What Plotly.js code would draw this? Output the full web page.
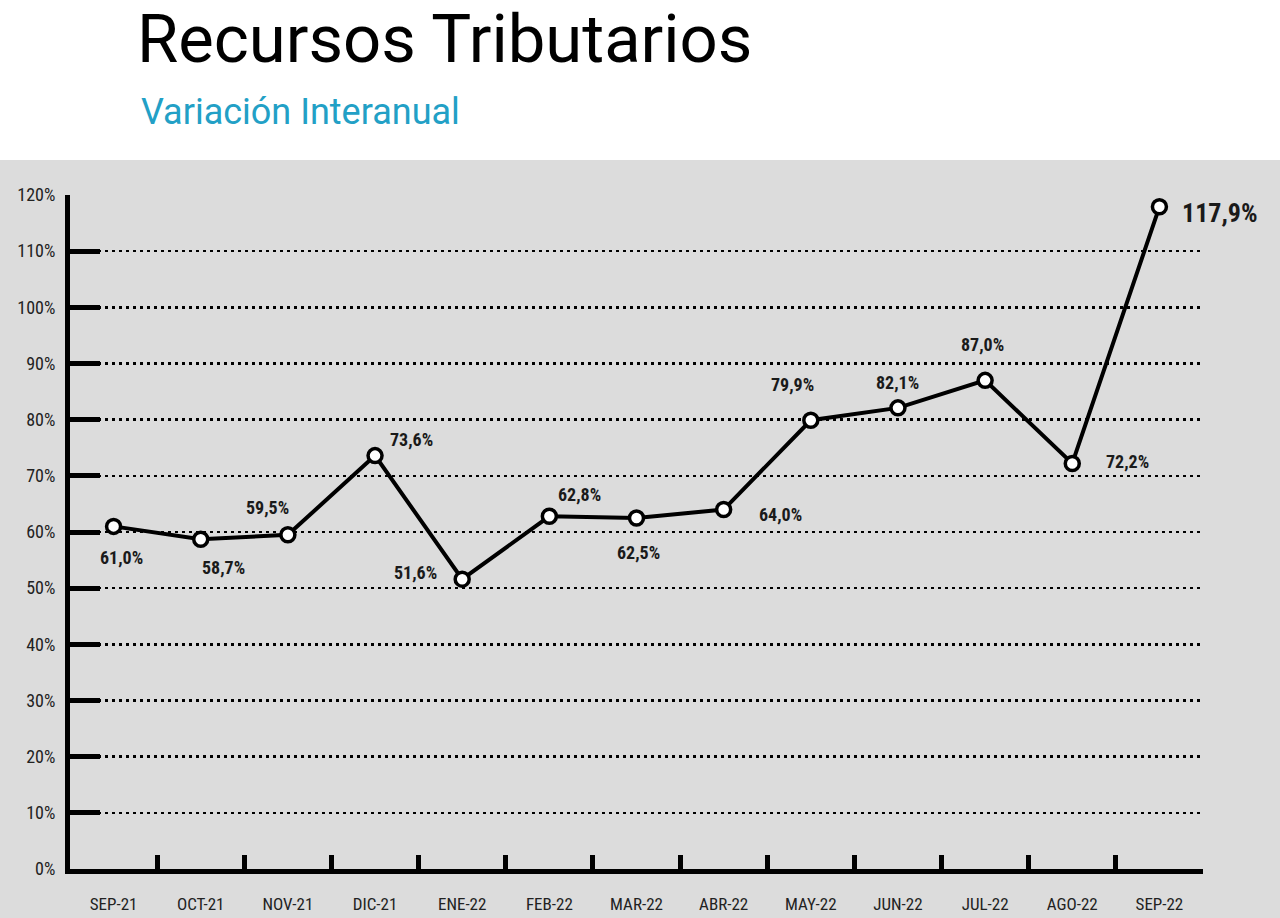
<!DOCTYPE html>
<html>
<head>
<meta charset="utf-8">
<script src="https://cdn.plot.ly/plotly-3.0.1.min.js"></script>
<style>
  html, body { margin: 0; padding: 0; background: #fff; }
  #chart { width: 1280px; height: 918px; }
</style>
</head>
<body>
<div id="chart"></div>
<script>
// meses y variación interanual (%)
const months = ["SEP-21", "OCT-21", "NOV-21", "DIC-21", "ENE-22", "FEB-22", "MAR-22",
                "ABR-22", "MAY-22", "JUN-22", "JUL-22", "AGO-22", "SEP-22"];
const variacion = [61.0, 58.7, 59.5, 73.6, 51.6, 62.8, 62.5, 64.0, 79.9, 82.1, 87.0, 72.2, 117.9];
const yTicks = [0, 10, 20, 30, 40, 50, 60, 70, 80, 90, 100, 110, 120];
const gridTicks = [10, 20, 30, 40, 50, 60, 70, 80, 90, 100, 110];

// where each label sits relative to its point (px)
const labelShiftX = [8, 23, -20, 36, -47, 30, 2, 57, -18, 0, -3, 55, 61];
const labelShiftY = [-31, -28, 27, 16, 7, 22, -35, -5, 36, 25, 36, 2, -6];

const labelFont = "'Liberation Sans Narrow', 'Roboto Condensed', 'Open Sans', sans-serif";

const fmt = v => v.toFixed(1).replace('.', ',') + '%';

const data = [{
    x: months.map((m, i) => i),
    y: variacion,
    type: 'scatter',
    mode: 'lines+markers',
    line: { color: '#000', width: 4 },
    marker: { size: 14, color: '#fff', line: { color: '#000', width: 3.5 } },
    cliponaxis: false,
    hoverinfo: 'skip'
}];

const annotations = variacion.map((v, i) => ({
    x: i,
    y: v,
    xref: 'x',
    yref: 'y',
    text: fmt(v),
    showarrow: false,
    xshift: labelShiftX[i],
    yshift: labelShiftY[i],
    font: {
        family: labelFont,
        size: i === variacion.length - 1 ? 26 : 18,
        color: '#1a1a1a',
        weight: 'bold'
    }
}));

annotations.push({
    xref: 'paper', yref: 'paper',
    x: 0.0605, y: 1.158,
    xanchor: 'left', yanchor: 'top',
    text: 'Variación Interanual',
    showarrow: false,
    font: { family: 'Roboto, sans-serif', size: 36, color: '#22a0c6' }
});

const layout = {
    width: 1280,
    height: 918,
    margin: { l: 70, r: 77, t: 195, b: 49 },
    paper_bgcolor: '#ffffff',
    plot_bgcolor: 'rgba(0,0,0,0)',
    showlegend: false,
    title: {
        text: 'Recursos Tributarios',
        xref: 'container', yref: 'container',
        x: 0.107, y: 0.984,
        xanchor: 'left', yanchor: 'top',
        font: { family: 'Roboto, sans-serif', size: 67, color: '#000' }
    },
    xaxis: {
        type: 'linear',
        range: [-0.5, 12.5],
        tickmode: 'array',
        tickvals: months.map((m, i) => i),
        ticktext: months,
        ticks: '',
        showgrid: false,
        zeroline: false,
        showline: true,
        linecolor: '#000',
        linewidth: 5,
        ticklabelstandoff: 16,
        tickfont: { family: labelFont, size: 17, color: '#222' }
    },
    xaxis2: {
        overlaying: 'x',
        range: [-0.5, 12.5],
        tickmode: 'array',
        tickvals: months.map((m, i) => i + 0.5),
        ticks: 'inside',
        ticklen: 14,
        tickwidth: 5,
        tickcolor: '#000',
        showticklabels: false,
        showgrid: false,
        zeroline: false,
        showline: false,
        side: 'bottom'
    },
    yaxis: {
        range: [0, 120],
        tickmode: 'array',
        tickvals: yTicks,
        ticktext: yTicks.map(t => t + '%'),
        ticks: 'inside',
        ticklen: 30,
        tickwidth: 5,
        tickcolor: '#000',
        showgrid: false,
        zeroline: false,
        showline: true,
        linecolor: '#000',
        linewidth: 5,
        ticklabelstandoff: 6,
        tickfont: { family: labelFont, size: 18, color: '#222' }
    },
    yaxis2: {
        overlaying: 'y',
        range: [0, 120],
        tickmode: 'array',
        tickvals: gridTicks,
        showticklabels: false,
        ticks: '',
        showgrid: true,
        gridcolor: '#000',
        gridwidth: 2.5,
        griddash: '3px,4px',
        zeroline: false,
        showline: false
    },
    shapes: [{
        type: 'rect',
        xref: 'paper', yref: 'paper',
        x0: -0.1, x1: 1.1,
        y0: -0.1, y1: 1.052,
        fillcolor: '#dcdcdc',
        line: { width: 0 },
        layer: 'below'
    }],
    annotations: annotations
};

// empty helper trace so the overlay axes are drawn
data.push({ x: [], y: [], xaxis: 'x2', yaxis: 'y2', type: 'scatter', hoverinfo: 'skip' });

Plotly.newPlot('chart', data, layout, { displayModeBar: false, staticPlot: true });
</script>
</body>
</html>
